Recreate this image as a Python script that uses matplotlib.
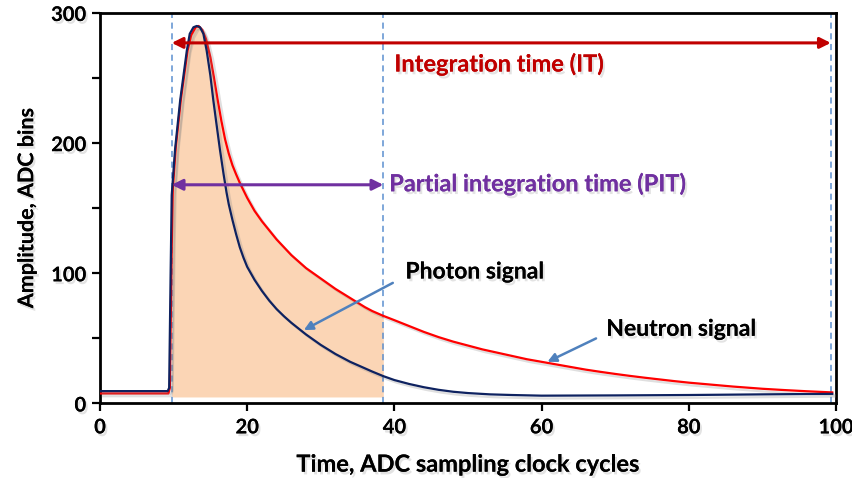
import matplotlib
matplotlib.use("Agg")
import matplotlib.pyplot as plt
import matplotlib.patheffects as pe
import numpy as np

plt.rcParams['font.family'] = ['Lato', 'DejaVu Sans']
plt.rcParams['font.weight'] = 'bold'

# photon pulse (ADC bins vs clock cycle)
t_photon = [0, 9.2, 9.4, 9.6, 9.75, 10.2, 10.9, 11.8, 12.2, 12.7, 13.15, 13.6, 14.05,
            14.5, 15, 15.4, 15.8, 16.3, 16.8, 17.2, 17.5, 18, 18.5, 19, 19.5, 20, 21,
            22, 23, 24, 25, 26, 27, 28, 29, 30, 31, 32, 33, 34, 35, 36, 37, 38.5,
            40, 42, 44, 46, 48, 50, 53, 56, 60, 70, 80, 90, 99.5]
photon = [9.5, 9.5, 12, 100, 160, 195, 233, 271, 284, 289, 290, 289, 284,
          271, 252, 233, 216, 195, 176, 162, 153, 141, 130, 120, 112, 105, 95,
          86.5, 79, 72.5, 67, 62, 57.5, 53, 49, 45, 41.5, 38, 35, 32, 29.5, 27, 24.5, 21,
          18, 15, 12.5, 10.5, 9, 8, 7, 6.5, 6, 6.2, 6.5, 7, 7.4]

# neutron pulse
t_neutron = [0, 9.3, 9.5, 9.75, 9.9, 10.3, 11.0, 11.9, 12.4, 13.0, 13.4, 13.9, 14.4,
             15, 15.5, 16, 16.5, 17, 17.5, 18, 18.5, 19, 20, 21, 22, 23, 24, 25, 26,
             27, 28, 29, 30, 31, 32, 33, 34, 35, 36, 37, 38.5, 40, 42, 44, 46, 48,
             50, 52, 54, 56, 58, 60, 62, 64, 66, 68, 70, 72, 74, 76, 78, 80, 83, 86,
             90, 93, 96, 99.5]
neutron = [7.7, 7.7, 12, 120, 165, 197, 234, 271, 283, 289, 290, 287, 280,
           266, 250, 233, 217, 203, 192, 183, 176, 169.5, 158, 148, 140, 133, 126, 120, 114,
           109, 104, 100, 96, 92, 88, 84.5, 81, 77.5, 74, 71, 67.3, 64, 59.5, 55, 51, 47.5,
           44.5, 41.5, 39, 36.5, 34, 32, 30, 28, 26, 24.3, 22.7, 21.2, 19.8, 18.5, 17.2, 16, 14.5, 13,
           11.3, 10.3, 9.4, 8.5]

it_start, pit_end, it_end = 9.75, 38.5, 99.3
fill_floor = 5
it_level, pit_level = 277, 168

shadow = [pe.withSimplePatchShadow(offset=(1.5, -2), shadow_rgbFace='gray', alpha=0.22), pe.Normal()]
line_shadow = [pe.SimpleLineShadow(offset=(2, -2), shadow_color='gray', alpha=0.25), pe.Normal()]

fig = plt.figure(figsize=(8.53, 4.78), dpi=100)
ax = fig.add_axes([0.1172, 0.1559, 0.8628, 0.817])

tn = np.array(t_neutron)
nv = np.array(neutron)
mask = (tn >= it_start) & (tn <= pit_end)
ax.fill_between(tn, fill_floor, nv, where=mask, color='#FBD5B5', lw=0, zorder=1)

for xv in (it_start, pit_end, it_end):
    ax.axvline(xv, color='#5B8FCF', lw=1.1, ls=(0, (4, 3)), zorder=2)

ax.plot(t_neutron, neutron, color='#FF0000', lw=1.6, zorder=3, path_effects=line_shadow)
ax.plot(t_photon, photon, color='#0E2260', lw=1.6, zorder=4, path_effects=line_shadow)

# integration windows
ax.annotate('', xy=(it_start, it_level), xytext=(it_end, it_level),
            arrowprops=dict(arrowstyle='<|-|>', color='#C00000', lw=2.2,
                            mutation_scale=16, shrinkA=0, shrinkB=0), zorder=5)
ax.annotate('', xy=(it_start, pit_level), xytext=(pit_end, pit_level),
            arrowprops=dict(arrowstyle='<|-|>', color='#7030A0', lw=2.2,
                            mutation_scale=16, shrinkA=0, shrinkB=0), zorder=5)
ax.text(40, 261, 'Integration time (IT)', color='#C00000', fontsize=17,
        fontweight='bold', va='center', ha='left', path_effects=shadow)
ax.text(39.3, 169, 'Partial integration time (PIT)', color='#7030A0', fontsize=17,
        fontweight='bold', va='center', ha='left', path_effects=shadow)

# signal labels
ax.annotate('Photon signal', xy=(27.7, 56.4), xytext=(41.5, 101),
            fontsize=16.5, fontweight='bold', color='black', va='center', ha='left',
            path_effects=shadow,
            arrowprops=dict(arrowstyle='-|>', color='#4F81BD', lw=1.8,
                            mutation_scale=13, shrinkA=8, shrinkB=0,
                            relpos=(0, 0.3)))
ax.annotate('Neutron signal', xy=(60.8, 32), xytext=(68.8, 57),
            fontsize=16.5, fontweight='bold', color='black', va='center', ha='left',
            path_effects=shadow,
            arrowprops=dict(arrowstyle='-|>', color='#4F81BD', lw=1.8,
                            mutation_scale=13, shrinkA=6, shrinkB=0,
                            relpos=(0, 0.3)))

ax.set_xlim(0, 100)
ax.set_ylim(0, 300)
ax.set_xticks([0, 20, 40, 60, 80, 100])
ax.set_yticks([0, 100, 200, 300])
ax.set_yticks([50, 150, 250], minor=True)
ax.tick_params(axis='both', which='major', direction='out', length=6, width=1.6,
               labelsize=14.5, pad=4)
ax.tick_params(axis='y', which='minor', direction='out', length=6, width=1.6)
for lab in ax.get_xticklabels() + ax.get_yticklabels():
    lab.set_fontweight('bold')
    lab.set_path_effects(shadow)
for s in ax.spines.values():
    s.set_linewidth(2)

ax.set_xlabel('Time, ADC sampling clock cycles', fontsize=17, fontweight='bold',
              labelpad=11, path_effects=shadow)
ax.set_ylabel('Amplitude, ADC bins', fontsize=15.5, fontweight='bold',
              labelpad=10, path_effects=shadow)

fig.savefig('out.png', dpi=100)
